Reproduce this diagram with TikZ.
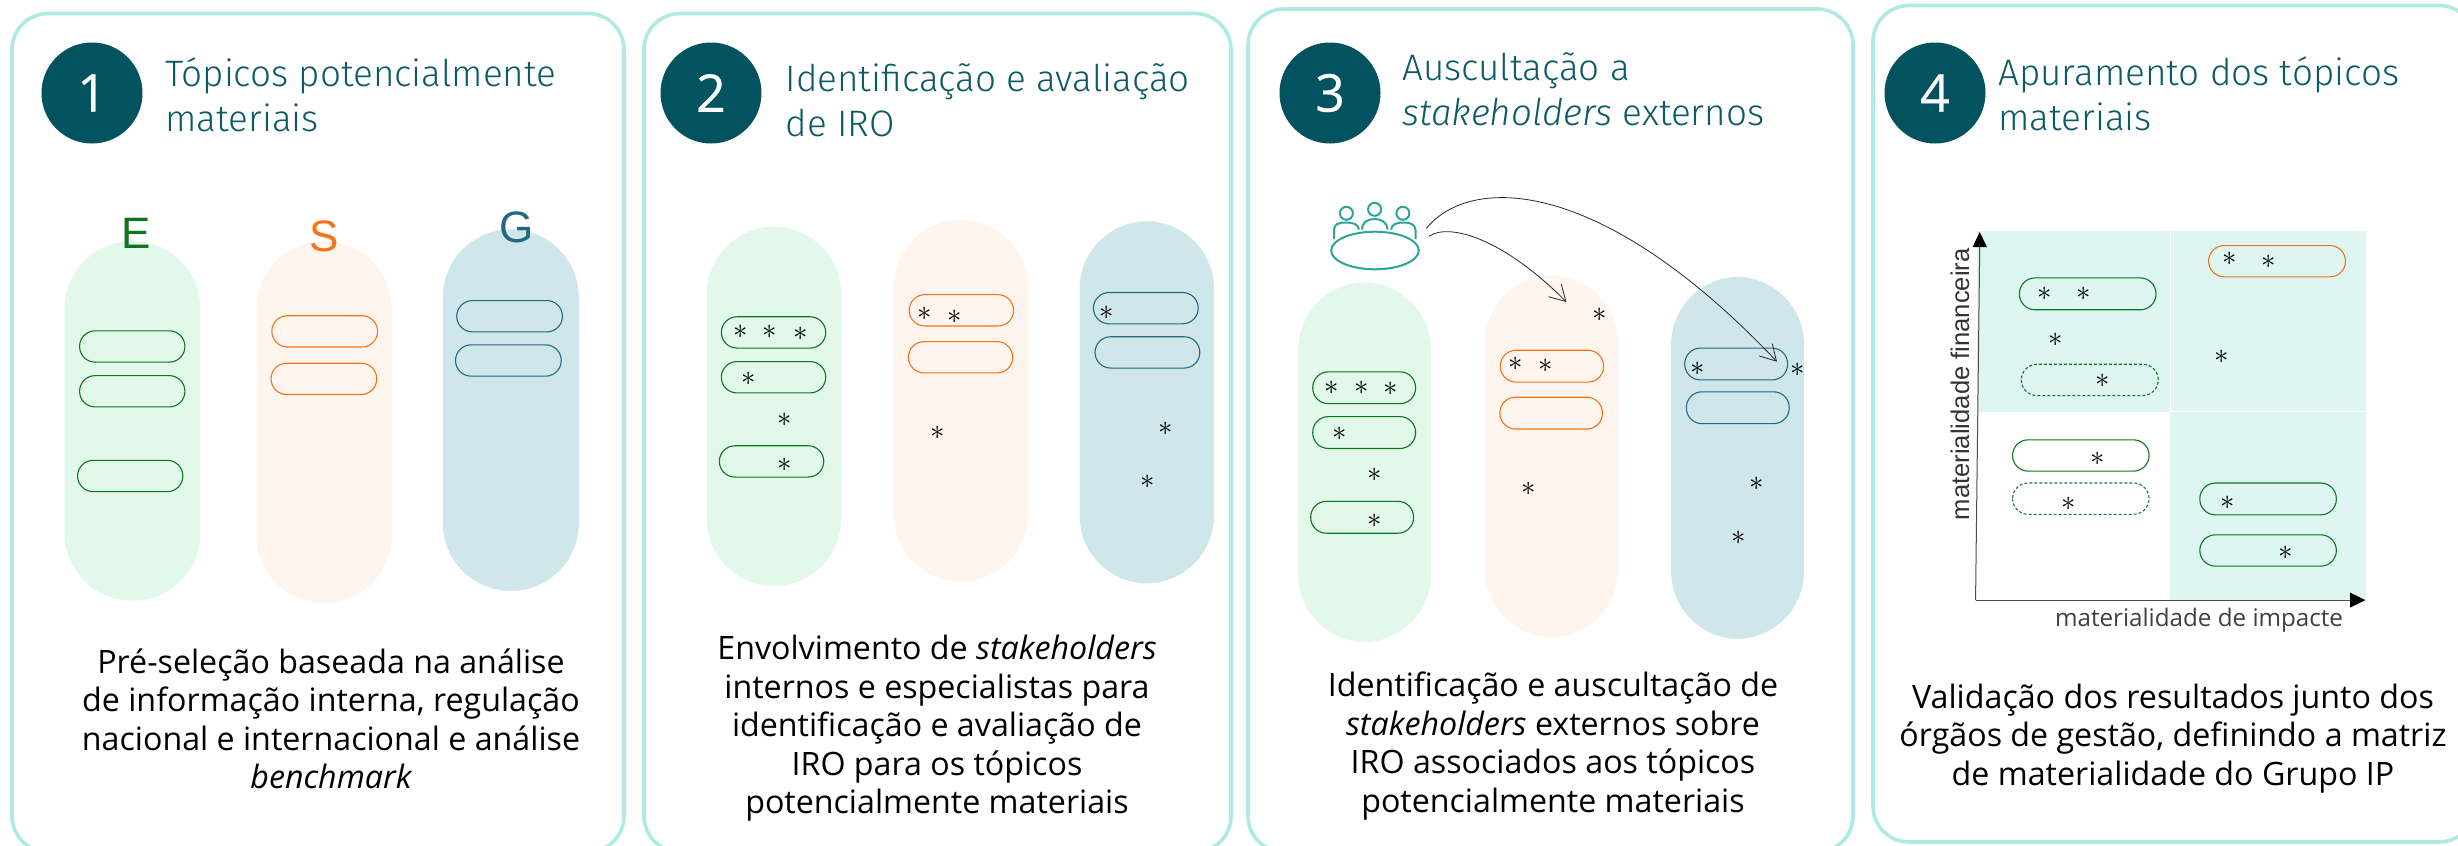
\documentclass[tikz,border=0pt]{standalone}
\usepackage{fontspec}
\usetikzlibrary{arrows.meta}
\setmainfont{Open Sans}
\newfontfamily\ttlfont{Fira Sans Light}
\newfontfamily\armfont{Liberation Sans}
\newfontfamily\numfont[FakeBold=0.5]{Open Sans}
\definecolor{edge}{HTML}{AEEBE2}
\definecolor{deep}{HTML}{02535F}
\definecolor{ttl}{HTML}{0B5A66}
\definecolor{efill}{HTML}{E2F8EA}
\definecolor{sfill}{HTML}{FFF5EF}
\definecolor{gfill}{HTML}{CFE6EA}
\definecolor{eline}{HTML}{0F7420}
\definecolor{sline}{HTML}{F97316}
\definecolor{gline}{HTML}{216A80}
\definecolor{mint}{HTML}{DEF6F1}
\definecolor{people}{HTML}{2BA598}
\tikzset{
  panelbox/.style={draw=edge,line width=1.8pt,fill=white,rounded corners=18pt},
  numdisc/.style={circle,fill=deep,text=white,minimum size=50.5pt,inner sep=0pt,font=\numfont\fontsize{26}{26}\selectfont},
  ttltext/.style={anchor=west,align=left,text=ttl,inner sep=0pt,font=\ttlfont\fontsize{18.4}{22.5}\selectfont},
  bodytext/.style={align=center,text=black,inner sep=0pt,font=\fontsize{16.1}{19.25}\selectfont},
  bigpill/.style={rounded corners=33.9pt},
  smallpill/.style={rounded corners=7.8pt,line width=0.55pt},
  starmark/.style={inner sep=0pt,text=black,font=\Large},
  esg/.style={inner sep=0pt,font=\armfont\fontsize{22}{22}\selectfont},
  thinarrow/.style={draw=black!85,line width=0.4pt,-{Straight Barb[length=7.8pt,width=9pt]}},
  peopleline/.style={draw=people,line width=1pt},
  axisline/.style={draw=black!70,line width=0.5pt},
  axishead/.style={fill=black,draw=none}
}
\newcommand{\stars}[2]{\foreach \xx/\yy [count=\ii] in {#2}{\node[starmark] (#1\ii) at (\xx,\yy) {$\ast$};}}
\newcommand{\spill}[6][]{\draw[smallpill,draw=#2,#1] (#3,#4) rectangle (#5,#6);}
\begin{document}
\begin{tikzpicture}[x=0.5pt,y=-0.5pt]
\useasboundingbox (0,0) rectangle (2458,846);
\clip (0,0) rectangle (2458,846);
\fill[white] (0,0) rectangle (2458,846);
% panels
\draw[panelbox] (12,13.5) rectangle (624,852);
\draw[panelbox] (644,13.5) rectangle (1231,852);
\draw[panelbox] (1248,9) rectangle (1853,852);
\draw[panelbox] (1873,5.5) rectangle (2475,842);
% discs
\node[numdisc] (d1) at (92,93) {1};
\node[numdisc] (d2) at (711,93) {2};
\node[numdisc] (d3) at (1330,93) {3};
\node[numdisc] (d4) at (1935,93) {4};
% titles
\node[ttltext] (t1) at (165,95) {Tópicos potencialmente\\materiais};
\node[ttltext] (t2) at (785.4,100) {Identificação e avaliação\\de IRO};
\node[ttltext] (t3) at (1402,89) {Auscultação a\\{\itshape stakeholders} externos};
\node[ttltext] (t4) at (1998,93.5) {Apuramento dos tópicos\\materiais};
% bodies
\node[bodytext] (b1) at (331,718.6) {Pré-seleção baseada na análise\\de informação interna, regulação\\nacional e internacional e análise\\{\itshape benchmark}};
\node[bodytext] (b2) at (937,728.5) {Envolvimento de {\itshape stakeholders}\\internos e especialistas para\\identificação e avaliação de\\IRO para os tópicos\\potencialmente materiais};
\node[bodytext] (b3) at (1553,746) {Identificação e auscultação de\\{\itshape stakeholders} externos sobre\\IRO associados aos tópicos\\potencialmente materiais};
\node[bodytext] (b4) at (2173,738.5) {Validação dos resultados junto dos\\órgãos de gestão, definindo a matriz\\de materialidade do Grupo IP};
% Panel 1
\begin{scope}[x=0.20408pt,y=-0.26983pt]
\fill[efill,bigpill] (158,447) rectangle (491,1113);
\fill[sfill,bigpill] (628,447) rectangle (960,1117);
\fill[gfill,bigpill] (1085,425) rectangle (1418,1095);
\node[esg,text=eline] (lE) at (334,433) {E};
\node[esg,text=sline] (lS) at (795,438) {S};
\node[esg,text=gline] (lG) at (1265,422) {G};
\spill{eline}{195}{613}{453}{671}
\spill{eline}{195}{696}{453}{754}
\spill{eline}{190}{853}{448}{911}
\spill{sline}{666}{585}{925}{643}
\spill{sline}{664}{673}{923}{731}
\spill{gline}{1119}{557}{1378}{615}
\spill{gline}{1116}{639}{1375}{697}
\end{scope}
% Panel 2
\begin{scope}[shift={(630,0)},x=0.19771pt,y=-0.26983pt]
\fill[efill,bigpill] (194,420) rectangle (534,1086);
\fill[sfill,bigpill] (667,407) rectangle (1007,1078);
\fill[gfill,bigpill] (1137,410) rectangle (1477,1081);
\spill{eline}{231}{587}{495}{645}
\spill{eline}{231}{670}{495}{728}
\spill{eline}{226}{826}{490}{884}
\spill{sline}{706}{546}{970}{604}
\spill{sline}{704}{633}{968}{691}
\spill{gline}{1172}{542}{1437}{600}
\spill{gline}{1176}{624}{1441}{682}
\stars{pb}{279/615,354/615,431/619,301/702,391/778,391/862,746/581,822/587,777/802,1206/579,1355/795,1310/893}
\end{scope}
% Panel 3
\begin{scope}[shift={(1240,0)},x=0.20088pt,y=-0.26983pt]
\fill[efill,bigpill] (145,523) rectangle (475,1190);
\fill[sfill,bigpill] (610,510) rectangle (941,1181);
\fill[gfill,bigpill] (1073,513) rectangle (1404,1184);
\spill{eline}{181}{689}{437}{748}
\spill{eline}{181}{772}{437}{831}
\spill{eline}{176}{929}{432}{988}
\spill{sline}{648}{649}{905}{708}
\spill{sline}{647}{736}{902}{795}
\spill{gline}{1107}{645}{1363}{704}
\spill{gline}{1111}{726}{1367}{785}
\stars{pc}{228/718,302/718,375/721,249/804,336/880,336/965,895/584,687/674,761/678,718/906,1140/683,1389/685,1285/896,1241/996}
\end{scope}
% people icon
\draw[peopleline] (1375,250.5) ellipse [x radius=43.8,y radius=18.8];
\draw[peopleline] (1346.4,213.3) circle [radius=6.5];
\draw[peopleline] (1374.6,209.3) circle [radius=6.5];
\draw[peopleline] (1402.9,213.3) circle [radius=6.5];
\draw[peopleline] (1334,239) -- (1334,230) .. controls (1334,224) and (1339,222.5) .. (1346,222.5) .. controls (1353,222.5) and (1358,224) .. (1359,229.5);
\draw[peopleline] (1362,229.5) .. controls (1362,222) and (1368,219) .. (1374.6,219) .. controls (1381,219) and (1387,222) .. (1387.5,229.5);
\draw[peopleline] (1391,229.5) .. controls (1392,224) and (1397,222.5) .. (1403,222.5) .. controls (1410,222.5) and (1415,224) .. (1415.5,230) -- (1415.5,239);
% arrows
\coordinate (upS) at (1426.4,228.3);
\coordinate (upE) at (1777,361.7);
\coordinate (loS) at (1429,236.3);
\coordinate (loE) at (1566.4,302);
\draw[thinarrow] (upS) .. controls (1470,175) and (1600,175) .. (upE);
\draw[thinarrow] (loS) .. controls (1450,222) and (1505,240) .. (loE);
% Panel 4
\begin{scope}[shift={(1860,0)},x=0.19069pt,y=-0.26983pt]
\fill[mint] (308,428) rectangle (813,763);
\fill[mint] (815,428) rectangle (1327,761);
\fill[mint] (813,763) rectangle (1327,1112);
\coordinate (org) at (303,1112);
\coordinate (ytip) at (314,450);
\coordinate (xtip) at (1300,1112);
\draw[axisline] (org) -- (ytip);
\draw[axisline] (org) -- (xtip);
\fill[axishead] (314,430) -- (333,458) -- (295,458) -- cycle;
\fill[axishead] (1325,1112) -- (1285,1098) -- (1285,1126) -- cycle;
\spill{eline}{418}{515}{776}{574}
\spill{sline}{914}{455}{1273}{513}
\spill[dashed,dash pattern=on 1.5pt off 1pt]{eline}{423}{675}{782}{733}
\spill{eline}{400}{815}{758}{873}
\spill[dashed,dash pattern=on 1.5pt off 1pt]{gline}{400}{895}{758}{953}
\spill{eline}{891}{895}{1249}{954}
\spill{eline}{891}{991}{1249}{1049}
\stars{pd}{483/544,586/544,513/629,636/705,969/480,1072/485,948/662,624/850,546/933,964/932,1116/1024}
\node[rotate=90,inner sep=0pt,text=black!80,font=\armfont\fontsize{12.8}{12.8}\selectfont] (yl) at (262,712) {materialidade financeira};
\node[inner sep=0pt,text=black!75,font=\fontsize{12.1}{12.1}\selectfont] (xl) at (889,1150) {materialidade de impacte};
\end{scope}
\end{tikzpicture}
\end{document}
